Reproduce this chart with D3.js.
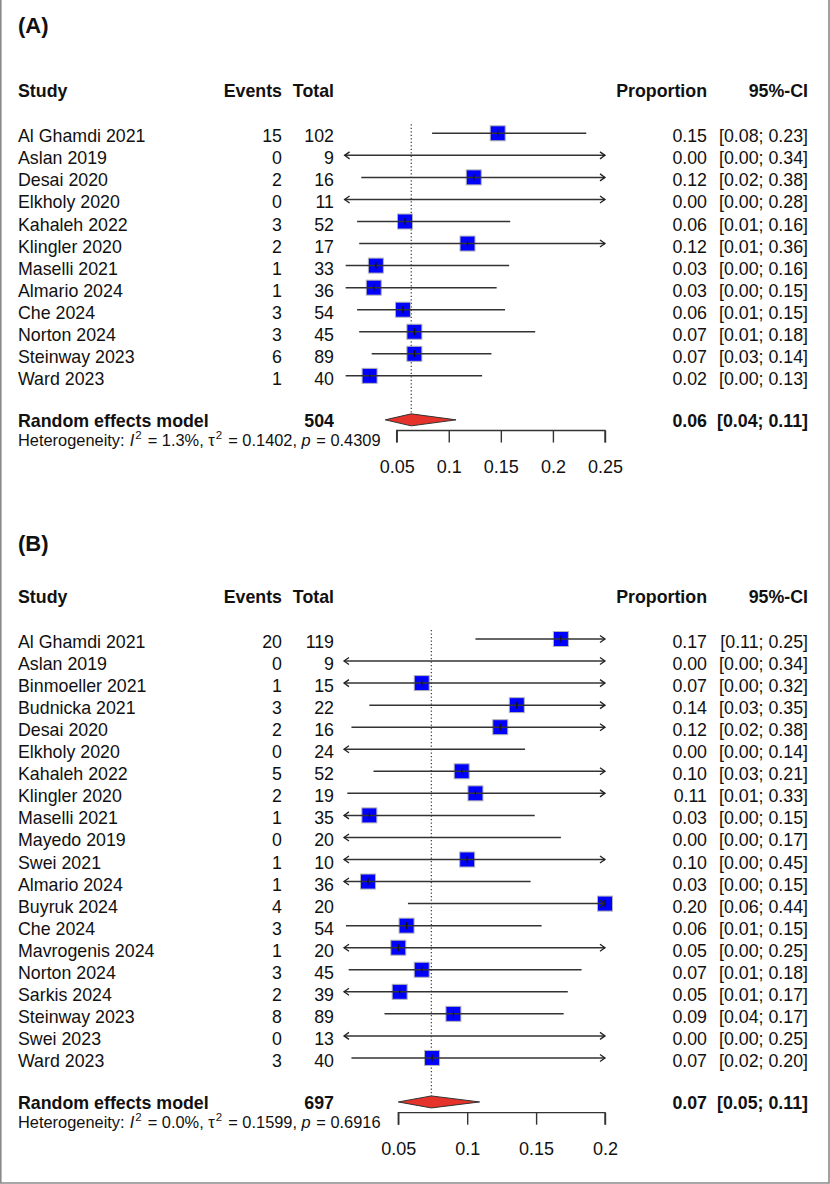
<!DOCTYPE html>
<html>
<head>
<meta charset="utf-8">
<script src="https://cdn.jsdelivr.net/npm/d3@7"></script>
<style>
  body { margin: 0; background: #fff; }
  text { font-family: "Liberation Sans", Arial, sans-serif; fill: #111; }
</style>
</head>
<body>
<div id="chart"></div>
<script>
// Panel A data
var studiesA = ["Al Ghamdi 2021", "Aslan 2019", "Desai 2020", "Elkholy 2020", "Kahaleh 2022",
  "Klingler 2020", "Maselli 2021", "Almario 2024", "Che 2024", "Norton 2024", "Steinway 2023", "Ward 2023"];
var eventsA = [15, 0, 2, 0, 3, 2, 1, 1, 3, 3, 6, 1];
var totalsA = [102, 9, 16, 11, 52, 17, 33, 36, 54, 45, 89, 40];
var propA = [0.147, 0, 0.124, 0, 0.058, 0.118, 0.030, 0.028, 0.056, 0.067, 0.067, 0.024];
var lowerA = [0.084, 0, 0.016, 0, 0.012, 0.014, 0.001, 0.001, 0.012, 0.014, 0.026, 0.001];
var upperA = [0.232, 0.336, 0.383, 0.284, 0.159, 0.364, 0.158, 0.146, 0.154, 0.183, 0.141, 0.132];
var pooledA = [0.064, 0.039, 0.107]; // estimate, lower, upper
var totalA = 504;
var hetA = ["1.3%", "0.1402", "0.4309"]; // I2, tau2, p
var ticksA = [0.05, 0.1, 0.15, 0.2, 0.25];

// Panel B data
var studiesB = ["Al Ghamdi 2021", "Aslan 2019", "Binmoeller 2021", "Budnicka 2021", "Desai 2020",
  "Elkholy 2020", "Kahaleh 2022", "Klingler 2020", "Maselli 2021", "Mayedo 2019", "Swei 2021",
  "Almario 2024", "Buyruk 2024", "Che 2024", "Mavrogenis 2024", "Norton 2024", "Sarkis 2024",
  "Steinway 2023", "Swei 2023", "Ward 2023"];
var eventsB = [20, 0, 1, 3, 2, 0, 5, 2, 1, 0, 1, 1, 4, 3, 1, 3, 2, 8, 0, 3];
var totalsB = [119, 9, 15, 22, 16, 24, 52, 19, 35, 20, 10, 36, 20, 54, 20, 45, 39, 89, 13, 40];
var propB = [0.168, 0, 0.067, 0.136, 0.124, 0, 0.096, 0.106, 0.029, 0, 0.100, 0.028, 0.200,
  0.056, 0.050, 0.067, 0.051, 0.090, 0, 0.0745];
var lowerB = [0.106, 0, 0.002, 0.029, 0.016, 0, 0.032, 0.013, 0.001, 0, 0.003, 0.001, 0.057,
  0.012, 0.001, 0.014, 0.006, 0.040, 0, 0.016];
var upperB = [0.248, 0.336, 0.319, 0.349, 0.383, 0.142, 0.210, 0.331, 0.149, 0.168, 0.446, 0.146,
  0.437, 0.154, 0.249, 0.183, 0.173, 0.170, 0.247, 0.204];
var pooledB = [0.074, 0.050, 0.109];
var totalB = 697;
var hetB = ["0.0%", "0.1599", "0.6916"];
var ticksB = [0.05, 0.1, 0.15, 0.2];

var svgWidth = 830;
var svgHeight = 1184;
var fontSize = 17.8;
var rowStep = 22.05;

var svg = d3.select("#chart").append("svg")
  .attr("width", svgWidth)
  .attr("height", svgHeight);

// Grey frame (left, right, bottom)
svg.append("path")
  .attr("d", "M0.8,0 V1183 H829 V0")
  .attr("fill", "none")
  .attr("stroke", "#8a8a8a")
  .attr("stroke-width", 1.6);

var fmt = d3.format(".2f");

//
// Draw one forest plot panel
//
function drawPanel(p) {
  var g = svg.append("g");
  var x = d3.scaleLinear().domain(p.domain).range([p.x0, p.x1]);
  var rowY = (i) => p.top + i * rowStep;
  var n = p.studies.length;
  var poolY = rowY(n - 1) + 44;
  var axisY = poolY + 10.7;

  // panel letter
  g.append("text").attr("x", 18).attr("y", p.titleY)
    .style("font-size", "22px").style("font-weight", "bold").text(p.title);

  // headers
  var hy = p.top - 36;
  var headers = [["Study", 18, "start"], ["Events", 282, "end"], ["Total", 334, "end"],
    ["Proportion", 707, "end"], ["95%-CI", 808, "end"]];
  headers.forEach((h) => {
    g.append("text").attr("x", h[1]).attr("y", hy).attr("text-anchor", h[2])
      .style("font-size", fontSize + "px").style("font-weight", "bold").text(h[0]);
  });

  // study text columns
  var rows = d3.range(n);
  var cols = [
    [(i) => p.studies[i], 18, "start"],
    [(i) => p.events[i], 282, "end"],
    [(i) => p.totals[i], 334, "end"],
    [(i) => fmt(p.prop[i]), 707, "end"],
    [(i) => "[" + fmt(p.lower[i]) + "; " + fmt(p.upper[i]) + "]", 808, "end"],
  ];
  cols.forEach((c) => {
    g.selectAll(null).data(rows).enter().append("text")
      .attr("x", c[1]).attr("y", (i) => rowY(i) + 9)
      .attr("text-anchor", c[2])
      .style("font-size", fontSize + "px")
      .text(c[0]);
  });

  // reference (pooled) dotted line
  g.append("line")
    .attr("x1", x(p.pooled[0])).attr("x2", x(p.pooled[0]))
    .attr("y1", p.top - 9).attr("y2", poolY - 6)
    .attr("stroke", "#444").attr("stroke-width", 1.3)
    .attr("stroke-dasharray", "1.3,2.2");

  // squares
  var boxSize = 15;
  g.selectAll(null).data(rows.filter((i) => p.prop[i] > p.domain[0])).enter().append("rect")
    .attr("x", (i) => x(p.prop[i]) - boxSize / 2)
    .attr("y", (i) => rowY(i) - boxSize / 2)
    .attr("width", boxSize).attr("height", boxSize)
    .attr("fill", "#0000ff").attr("stroke", "#b4b4b4").attr("stroke-width", 1);

  // CI lines, clipped to the plot range
  var lo = (i) => Math.max(p.lower[i], p.domain[0]);
  var hi = (i) => Math.min(p.upper[i], p.domain[1]);
  g.selectAll(null).data(rows).enter().append("line")
    .attr("x1", (i) => x(lo(i))).attr("x2", (i) => x(hi(i)))
    .attr("y1", rowY).attr("y2", rowY)
    .attr("stroke", "#333").attr("stroke-width", 1.5);

  // small tick at the estimate
  g.selectAll(null).data(rows.filter((i) => p.prop[i] > p.domain[0])).enter().append("line")
    .attr("x1", (i) => x(p.prop[i])).attr("x2", (i) => x(p.prop[i]))
    .attr("y1", (i) => rowY(i) - 3.5).attr("y2", (i) => rowY(i) + 3.5)
    .attr("stroke", "#111").attr("stroke-width", 1.2);

  // arrows where the CI leaves the range
  g.selectAll(null).data(rows.filter((i) => p.lower[i] <= p.domain[0])).enter().append("path")
    .attr("d", (i) => { var a = x(p.domain[0]), y = rowY(i); return `M${a + 5},${y - 3.5} L${a},${y} L${a + 5},${y + 3.5}`; })
    .attr("fill", "none").attr("stroke", "#222").attr("stroke-width", 1.3);
  g.selectAll(null).data(rows.filter((i) => p.upper[i] > p.domain[1])).enter().append("path")
    .attr("d", (i) => { var a = x(p.domain[1]), y = rowY(i); return `M${a - 5},${y - 3.5} L${a},${y} L${a - 5},${y + 3.5}`; })
    .attr("fill", "none").attr("stroke", "#222").attr("stroke-width", 1.3);

  // pooled diamond
  var dh = 6;
  g.append("path")
    .attr("d", `M${x(p.pooled[1])},${poolY} L${x(p.pooled[0])},${poolY - dh} L${x(p.pooled[2])},${poolY} L${x(p.pooled[0])},${poolY + dh} Z`)
    .attr("fill", "#e5322a").attr("stroke", "#333").attr("stroke-width", 1);

  // pooled text
  var py = poolY + 7.3;
  g.append("text").attr("x", 18).attr("y", py).style("font-size", fontSize + "px")
    .style("font-weight", "bold").text("Random effects model");
  g.append("text").attr("x", 334).attr("y", py).attr("text-anchor", "end")
    .style("font-size", fontSize + "px").style("font-weight", "bold").text(p.total);
  g.append("text").attr("x", 707).attr("y", py).attr("text-anchor", "end")
    .style("font-size", fontSize + "px").style("font-weight", "bold").text(fmt(p.pooled[0]));
  g.append("text").attr("x", 808).attr("y", py).attr("text-anchor", "end")
    .style("font-size", fontSize + "px").style("font-weight", "bold")
    .text("[" + fmt(p.pooled[1]) + "; " + fmt(p.pooled[2]) + "]");

  // heterogeneity line
  var ht = g.append("text").attr("x", 18).attr("y", poolY + 26.5).style("font-size", "16.4px");
  ht.append("tspan").text("Heterogeneity: ");
  ht.append("tspan").attr("dx", 0.5).style("font-style", "italic").text("I");
  ht.append("tspan").attr("dx", 1).attr("dy", -7).style("font-size", "11.5px").text("2");
  ht.append("tspan").attr("dx", 1.5).attr("dy", 7).text(" = " + p.het[0] + ", \u03c4");
  ht.append("tspan").attr("dx", 1).attr("dy", -7).style("font-size", "11.5px").text("2");
  ht.append("tspan").attr("dx", 1.5).attr("dy", 7).text(" = " + p.het[1] + ", ");
  ht.append("tspan").style("font-style", "italic").text("p");
  ht.append("tspan").attr("dx", 1).text(" = " + p.het[2]);

  // x axis
  var axis = d3.axisBottom(x).tickValues(p.ticks).tickSize(12)
    .tickFormat((d) => String(+d.toFixed(2)));
  var ax = g.append("g").attr("transform", `translate(0, ${axisY})`).call(axis);
  ax.select(".domain")
    .attr("d", `M${x(p.ticks[0])},12V0H${x(p.ticks[p.ticks.length - 1])}V12`)
    .attr("stroke", "#333").attr("stroke-width", 1.4);
  ax.selectAll(".tick line").attr("stroke", "#333").attr("stroke-width", 1.4);
  ax.selectAll(".tick text")
    .attr("y", 42.6).attr("dy", null)
    .style("font-size", "18px")
    .style("font-family", "'Liberation Sans', Arial, sans-serif")
    .attr("fill", "#111");
}

drawPanel({
  title: "(A)", titleY: 33,
  studies: studiesA, events: eventsA, totals: totalsA,
  prop: propA, lower: lowerA, upper: upperA,
  pooled: pooledA, total: totalA, het: hetA, ticks: ticksA,
  domain: [0, 0.25], x0: 344.6, x1: 605,
  top: 133.3,
});

drawPanel({
  title: "(B)", titleY: 551,
  studies: studiesB, events: eventsB, totals: totalsB,
  prop: propB, lower: lowerB, upper: upperB,
  pooled: pooledB, total: totalB, het: hetB, ticks: ticksB,
  domain: [0.0106, 0.2], x0: 344, x1: 605,
  top: 639,
});
</script>
</body>
</html>
